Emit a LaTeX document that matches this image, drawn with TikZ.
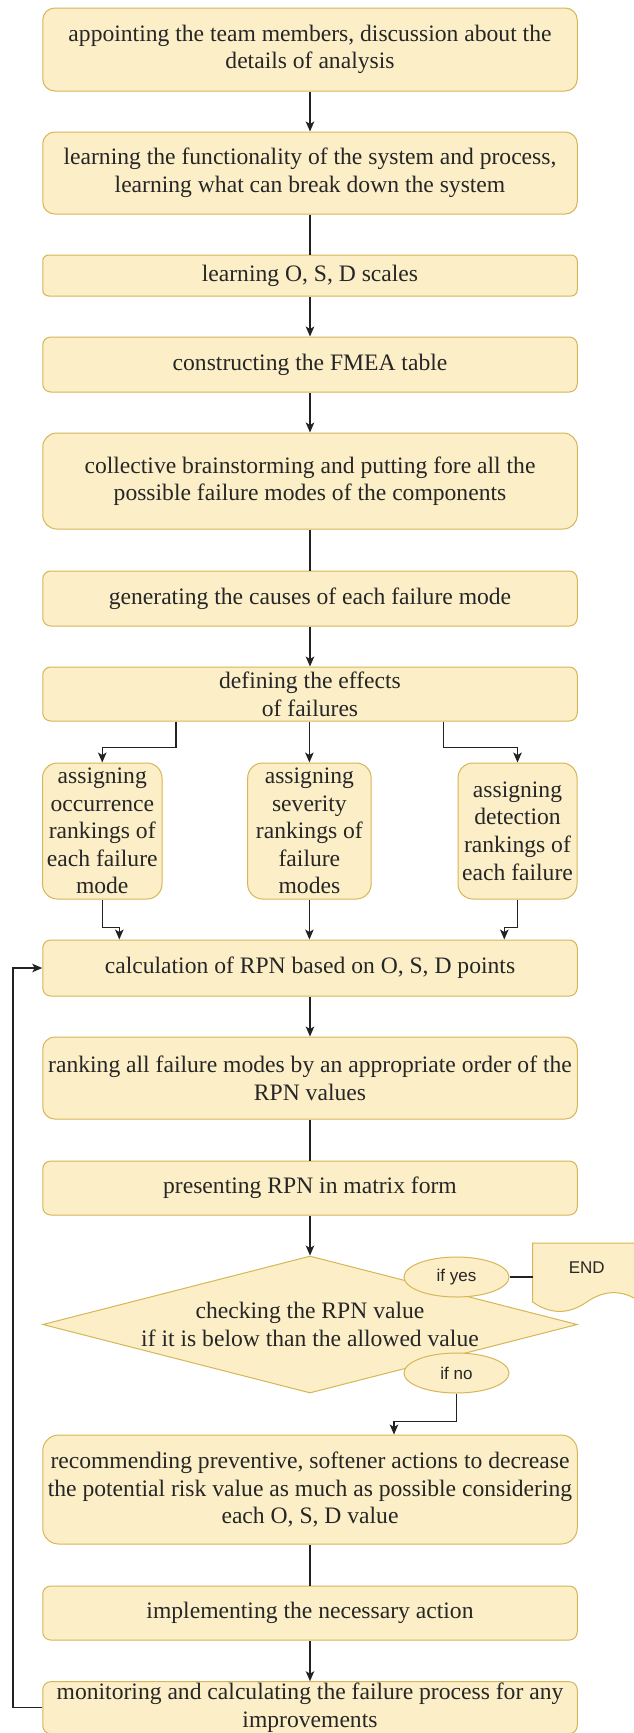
\documentclass[tikz,border=0pt]{standalone}
\usepackage{fontspec}
\setmainfont{Liberation Serif}
\newfontfamily\labelsans{Liberation Sans}
\usetikzlibrary{arrows.meta,shapes.geometric}

\definecolor{boxfill}{HTML}{FCEFC8}
\definecolor{boxline}{HTML}{D6B656}
\definecolor{wire}{HTML}{222222}

\begin{document}
\begin{tikzpicture}[x=1pt,y=-1pt,
  every node/.style={font=\fontsize{23.6}{27.6}\selectfont, text=black!85},
  stepbox/.style={draw=boxline, fill=boxfill, line width=1pt,
    rounded corners=#1, align=center, minimum width=534.5pt, inner sep=0pt},
  sidebox/.style={draw=boxline, fill=boxfill, line width=1pt,
    rounded corners=15pt, align=center, minimum height=136pt, inner sep=0pt},
  tag/.style={ellipse, draw=boxline, fill=boxfill, line width=1pt,
    minimum width=105pt, minimum height=40pt, inner sep=0pt,
    font=\labelsans\fontsize{17}{20}\selectfont},
  wire/.style={draw=wire, line width=1.3pt},
  flow/.style={wire, -{Stealth[length=10pt,width=8.5pt,inset=2.5pt]}}
]
% canvas
\fill[white] (0,0) rectangle (634,1733);
\useasboundingbox (0,0) rectangle (634,1733);

% main column of steps
\node[stepbox=12pt, minimum height=83pt] (b1) at (310,49.5)
  {appointing the team members, discussion about the\\details of analysis};
\node[stepbox=12pt, minimum height=82pt] (b2) at (310,173)
  {learning the functionality of the system and process,\\learning what can break down the system};
\node[stepbox=6pt, minimum height=41pt] (b3) at (310,275.5)
  {learning O, S, D scales};
\node[stepbox=8pt, minimum height=55pt] (b4) at (310,364.5)
  {constructing the FMEA table};
\node[stepbox=14pt, minimum height=96pt] (b5) at (310,481)
  {collective brainstorming and putting fore all the\\possible failure modes of the components};
\node[stepbox=8pt, minimum height=55pt] (b6) at (310,598.5)
  {generating the causes of each failure mode};
\node[stepbox=8pt, minimum height=54pt] (b7) at (310,694)
  {defining the effects\\of failures};

% three ranking boxes
\node[sidebox, minimum width=119.5pt] (s1) at (102.25,831)
  {assigning\\occurrence\\rankings of\\each failure\\mode};
\node[sidebox, minimum width=123.5pt] (s2) at (309.4,831)
  {assigning\\severity\\rankings of\\failure\\modes};
\node[sidebox, minimum width=119pt] (s3) at (517.5,831)
  {assigning\\detection\\rankings of\\each failure};

\node[stepbox=8pt, minimum height=56pt] (b8) at (310,968)
  {calculation of RPN based on O, S, D points};
\node[stepbox=12pt, minimum height=82pt] (b9) at (310,1078)
  {ranking all failure modes by an appropriate order of the\\RPN values};
\node[stepbox=8pt, minimum height=54pt] (b10) at (310,1188)
  {presenting RPN in matrix form};

% decision
\node[diamond, draw=boxline, fill=boxfill, line width=1pt, inner sep=0pt,
  minimum width=534.5pt, minimum height=137pt] (chk) at (310,1324.5) {};
\node[align=center] (chktext) at (chk.center)
  {checking the RPN value\\if it is below than the allowed value};
\node[tag] (yes) at (456.5,1277) {if yes};
\node[tag] (no) at (456.5,1373) {if no};

% terminal document shape
\node[minimum width=108pt, minimum height=69.4pt, inner sep=0pt,
  anchor=north west] (endbox) at (532.7,1243) {};
\begin{scope}
  \clip (0,0) rectangle (634,1733);
  \begin{scope}[shift={(endbox.north west)}]
    \draw[draw=boxline, fill=boxfill, line width=1pt]
      (0,0) -- (108,0) -- (108,59)
      .. controls (90,46.5) and (72,46.5) .. (54,59)
      .. controls (36,71.5) and (18,71.5) .. (0,59) -- cycle;
  \end{scope}
\end{scope}
\node[font=\labelsans\fontsize{17}{20}\selectfont] (endtext) at (586.7,1268) {END};

\node[stepbox=16pt, minimum height=109pt] (b11) at (310,1489.5)
  {recommending preventive, softener actions to decrease\\the potential risk value as much as possible considering\\each O, S, D value};
\node[stepbox=8pt, minimum height=54pt] (b12) at (310,1613)
  {implementing the necessary action};
\node[stepbox=8pt, minimum height=52pt] (b13) at (310,1707.7)
  {monitoring and calculating the failure process for any\\improvements};

% connectors
\draw[flow] (b1.south) -- (b2.north);
\draw[wire] (b2.south) -- (b3.north);
\draw[flow] (b3.south) -- (b4.north);
\draw[flow] (b4.south) -- (b5.north);
\draw[wire] (b5.south) -- (b6.north);
\draw[flow] (b6.south) -- (b7.north);

\draw[flow] ([xshift=-134pt]b7.south) -- ++(0,26) -| (s1.north);
\draw[flow] (b7.south -| s2.north) -- (s2.north);
\draw[flow] ([xshift=133.6pt]b7.south) -- ++(0,26) -| (s3.north);

\draw[flow] (s1.south) -- ++(0,28) -| ([xshift=-190.7pt]b8.north);
\draw[flow] (s2.south) -- (s2.south |- b8.north);
\draw[flow] (s3.south) -- ++(0,28) -| ([xshift=194.3pt]b8.north);

\draw[flow] (b8.south) -- (b9.north);
\draw[wire] (b9.south) -- (b10.north);
\draw[flow] (b10.south) -- (chk.north);

\draw[wire] (yes.east) -- (yes.east -| endbox.west);
\draw[flow] (no.south) -- ++(0,28) -| ([xshift=84pt]b11.north);

\draw[wire] (b11.south) -- (b12.north);
\draw[flow] (b12.south) -- (b13.north);

% loop back for re-evaluation
\draw[flow] (b13.west) -- ++(-29.3,0) |- (b8.west);
\end{tikzpicture}
\end{document}
